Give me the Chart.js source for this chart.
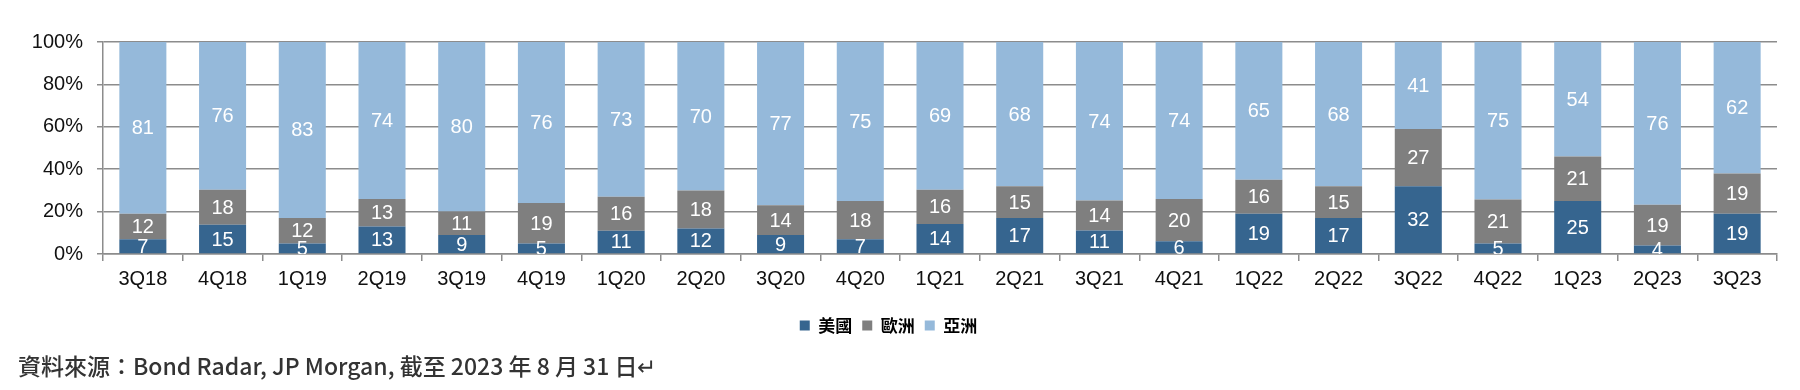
<!DOCTYPE html>
<html>
<head>
<meta charset="utf-8">
<script src="https://cdn.jsdelivr.net/npm/chart.js@4"></script>
<style>
  body { margin: 0; background: #fff; }
  #wrap { position: relative; width: 1800px; height: 390px; }
  #note {
    position: absolute; left: 18px; top: 350px; line-height: 30px;
    font-family: "Noto Sans CJK TC", sans-serif; font-size: 23px; font-weight: 500; color: #333;
    white-space: nowrap;
  }
</style>
</head>
<body>
<div id="wrap">
  <canvas id="chart"></canvas>
  <div id="note">資料來源：Bond Radar, JP Morgan, 截至 2023 年 8 月 31 日↵</div>
</div>
<script>
// Quarters and share by region (as labelled in the source)
const quarters = ["3Q18", "4Q18", "1Q19", "2Q19", "3Q19", "4Q19", "1Q20", "2Q20", "3Q20", "4Q20",
  "1Q21", "2Q21", "3Q21", "4Q21", "1Q22", "2Q22", "3Q22", "4Q22", "1Q23", "2Q23", "3Q23"];
const usa = [7, 15, 5, 13, 9, 5, 11, 12, 9, 7, 14, 17, 11, 6, 19, 17, 32, 5, 25, 4, 19];
const europe = [12, 18, 12, 13, 11, 19, 16, 18, 14, 18, 16, 15, 14, 20, 16, 15, 27, 21, 21, 19, 19];
const asia = [81, 76, 83, 74, 80, 76, 73, 70, 77, 75, 69, 68, 74, 74, 65, 68, 41, 75, 54, 76, 62];
const yTicks = [0, 20, 40, 60, 80, 100];

// 100% stacked: scale each quarter to its total
const totals = quarters.map((q, i) => usa[i] + europe[i] + asia[i]);
const pct = arr => arr.map((v, i) => v / totals[i] * 100);

const gridCol = "#8c8c8c";

// Value labels centred in each segment, clipped to the plot
const segLabels = {
  id: "segLabels",
  afterDatasetsDraw(chart) {
    const ctx = chart.ctx, area = chart.chartArea;
    ctx.save();
    ctx.beginPath();
    ctx.rect(area.left, area.top, area.right - area.left, area.bottom - area.top);
    ctx.clip();
    ctx.font = "20px 'Liberation Sans', Arial, sans-serif";
    ctx.fillStyle = "#fff";
    ctx.textAlign = "center";
    ctx.textBaseline = "middle";
    chart.data.datasets.forEach((ds, di) => {
      chart.getDatasetMeta(di).data.forEach((bar, i) => {
        const y = (bar.y + bar.base) / 2;
        ctx.fillText(String(ds.raw[i]), bar.x, y + 1);
      });
    });
    ctx.restore();
  }
};

new Chart(document.getElementById("chart"), {
  type: "bar",
  data: {
    labels: quarters,
    datasets: [
      { label: "美國", data: pct(usa), raw: usa, backgroundColor: "#36658f" },
      { label: "歐洲", data: pct(europe), raw: europe, backgroundColor: "#7f7f7f" },
      { label: "亞洲", data: pct(asia), raw: asia, backgroundColor: "#95b9da" }
    ]
  },
  options: {
    responsive: true,
    maintainAspectRatio: false,
    animation: false,
    datasets: { bar: { barPercentage: 0.59, categoryPercentage: 1 } },
    layout: { padding: { top: 42, right: 23, left: 0, bottom: 46 } },
    plugins: {
      tooltip: { enabled: false },
      legend: {
        position: "bottom",
        labels: {
          boxWidth: 10, boxHeight: 10, padding: 10, color: "#000",
          font: { family: "'Noto Sans CJK TC', sans-serif", size: 17, weight: "bold" }
        }
      }
    },
    scales: {
      x: {
        stacked: true,
        grid: { drawOnChartArea: false, drawTicks: true, tickLength: 7, color: gridCol, lineWidth: 1.5 },
        border: { color: gridCol, width: 1.5 },
        ticks: { padding: 6, color: "#111", font: { family: "'Liberation Sans', Arial, sans-serif", size: 20 } },
        afterFit(scale) { scale.height = 53; }
      },
      y: {
        stacked: true,
        min: 0, max: 100,
        afterBuildTicks(scale) { scale.ticks = yTicks.map(v => ({ value: v })); },
        grid: { color: gridCol, lineWidth: 1.5, tickLength: 6 },
        border: { color: gridCol, width: 1.5 },
        ticks: {
          padding: 14, color: "#111",
          font: { family: "'Liberation Sans', Arial, sans-serif", size: 20 },
          callback: v => v + "%"
        },
        afterFit(scale) { scale.width = 103; }
      }
    }
  },
  plugins: [segLabels]
});
</script>
</body>
</html>
